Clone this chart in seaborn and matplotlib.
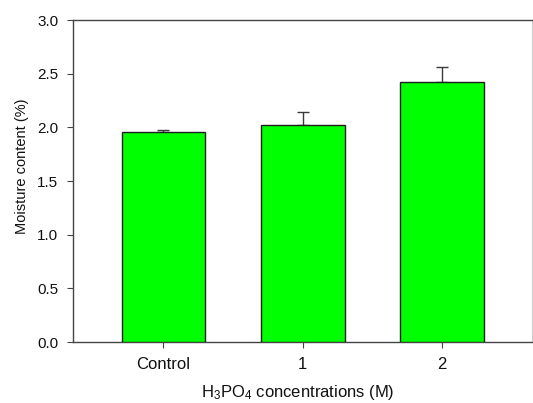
import numpy as np
import pandas as pd
import matplotlib
matplotlib.use("Agg")
import matplotlib.pyplot as plt
import seaborn as sns

categories = ["Control", "1", "2"]
moisture = [1.957, 2.02, 2.42]
errors = [0.016, 0.125, 0.14]

sns.set_theme(style="white")
plt.rcParams['font.family'] = ['Liberation Sans', 'DejaVu Sans']
plt.rcParams['mathtext.fontset'] = 'custom'
plt.rcParams['mathtext.rm'] = 'Liberation Sans'
plt.rcParams['mathtext.it'] = 'Liberation Sans'

fig = plt.figure(figsize=(5.33, 4.03), dpi=100)
ax = fig.add_axes([0.137, 0.151, 0.861, 0.799])

df = pd.DataFrame({"cat": categories, "val": moisture})
sns.barplot(data=df, x="cat", y="val", color="#00ff00", saturation=1, width=0.6,
            edgecolor="#1e1e1e", linewidth=1.0, ax=ax, zorder=3)
ax.errorbar(np.arange(len(categories)), moisture,
            yerr=[np.zeros(len(errors)), errors], fmt="none",
            ecolor="#3a3a3a", elinewidth=1.0, capsize=4, capthick=1.0, zorder=2)

ax.set_xlim(-0.648, 2.643)
ax.set_ylim(0, 3.0)
ax.set_yticks(np.arange(0, 3.01, 0.5))
ax.set_yticklabels([f"{v:.1f}" for v in np.arange(0, 3.01, 0.5)])

for side in ["left", "bottom", "top"]:
    ax.spines[side].set_color("#444444")
    ax.spines[side].set_linewidth(1.0)
ax.spines["right"].set_color("#cccccc")
ax.spines["right"].set_linewidth(0.8)

ax.tick_params(axis="both", which="both", direction="out", length=4, width=0.8,
               color="#444444", labelcolor="#111111", left=True, bottom=True)
ax.tick_params(axis="y", labelsize=11, pad=6.5)
ax.tick_params(axis="x", labelsize=12, pad=7)
ax.set_xlabel(r"H$_3$PO$_4$ concentrations (M)", fontsize=12, color="#111111")
ax.set_ylabel("Moisture content (%)", fontsize=10.5, color="#111111")
ax.xaxis.set_label_coords(0.489, -0.128)
ax.yaxis.set_label_coords(-0.112, 0.545)
ax.yaxis.label.set_va("center")
ax.grid(False)

fig.savefig("out.png", dpi=100)
